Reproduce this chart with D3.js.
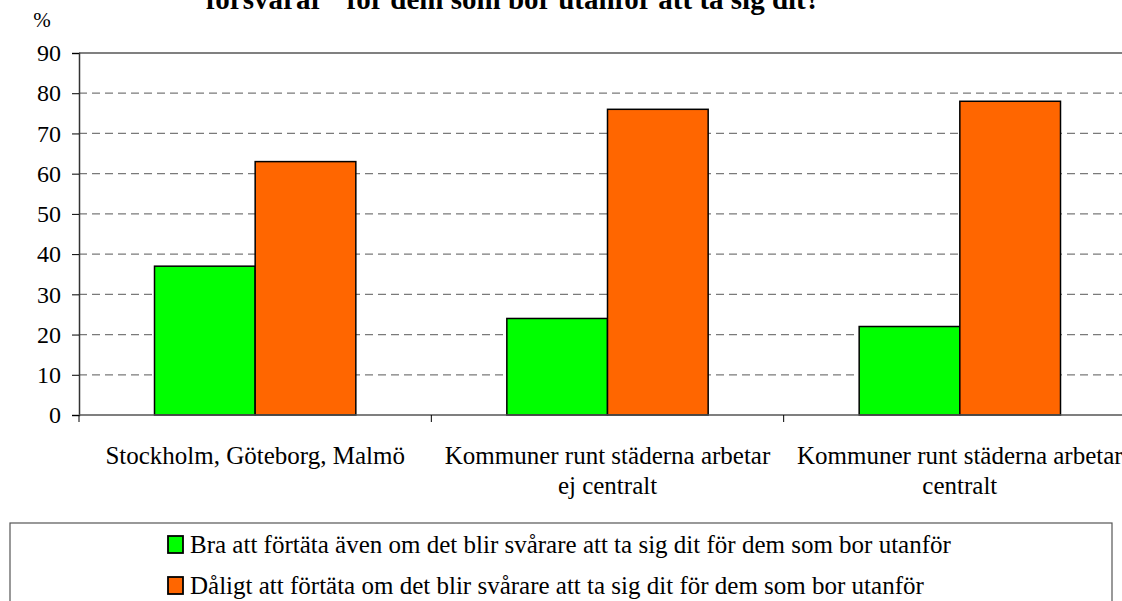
<!DOCTYPE html>
<html><head><meta charset="utf-8">
<script src="https://cdn.jsdelivr.net/npm/d3@7"></script>
<style>body{margin:0;background:#fff;}</style>
</head><body>
<svg id="c" width="1122" height="601" font-family="Liberation Serif"></svg>
<script>
const categories = [["Stockholm, Göteborg, Malmö"], ["Kommuner runt städerna arbetar", "ej centralt"], ["Kommuner runt städerna arbetar", "centralt"]];
const seriesNames = ["Bra att förtäta även om det blir svårare att ta sig dit för dem som bor utanför", "Dåligt att förtäta om det blir svårare att ta sig dit för dem som bor utanför"];
const seriesColors = ["#00ff00", "#ff6600"];
const greenValues = [37, 24, 22];
const orangeValues = [63, 76, 78];
const yTicks = [0, 10, 20, 30, 40, 50, 60, 70, 80, 90];
const titleText = "försvårar\" för dem som bor utanför att ta sig dit?";

const FF = "'Liberation Serif'";
const FS = "25px";
const svg = d3.select("#c");
const L = 79, R = 1136, T = 53, B = 415;
const x = d3.scaleBand().domain(d3.range(categories.length)).range([L, R]).paddingInner(0).paddingOuter(0);
const xs = d3.scaleBand().domain([0, 1]).range([0, x.bandwidth()]).paddingOuter(0.75).paddingInner(0);
const y = d3.scaleLinear().domain([0, 90]).range([B, T]);

// title (partially cut, as in the reference)
svg.append("text").attr("x", 513).attr("y", 9).attr("text-anchor", "middle")
  .style("font-family", FF).style("font-weight", "bold").style("font-size", "29px").text(titleText);
svg.append("text").attr("x", 42).attr("y", 27).attr("text-anchor", "middle").style("font-family", FF).style("font-size", "21px").text("%");

// gridlines
svg.append("g").selectAll("line").data(yTicks.filter(d => d > 0 && d < 90)).join("line")
  .attr("x1", L).attr("x2", R).attr("y1", d => y(d)).attr("y2", d => y(d))
  .attr("stroke", "#7a7a7a").attr("stroke-width", 1.2).attr("stroke-dasharray", "8,5");
svg.append("line").attr("x1", L).attr("x2", R).attr("y1", y(90)).attr("y2", y(90)).attr("stroke", "#808080").attr("stroke-width", 2);

// bars
const series = [greenValues, orangeValues];
series.forEach((vals, si) => {
  svg.append("g").selectAll("rect").data(vals).join("rect")
    .attr("x", (d, i) => x(i) + xs(si))
    .attr("y", d => y(d))
    .attr("width", xs.bandwidth())
    .attr("height", d => y(0) - y(d))
    .attr("fill", seriesColors[si]).attr("stroke", "#000").attr("stroke-width", 1.5);
});

// y axis
const ya = svg.append("g").attr("transform", `translate(${L},0)`)
  .call(d3.axisLeft(y).tickValues(yTicks).tickSize(7).tickPadding(11).tickFormat(d3.format("d")));
ya.attr("font-family", null).attr("font-size", null);
ya.select(".domain").attr("stroke", "#333").attr("stroke-width", 1.5);
ya.selectAll(".tick line").attr("stroke", "#000");
ya.selectAll("text").attr("fill", "#000").style("font-family", FF).style("font-size", "24px");

// x axis
svg.append("line").attr("x1", L).attr("x2", R).attr("y1", B).attr("y2", B).attr("stroke", "#555").attr("stroke-width", 1.5);
svg.append("g").selectAll("line").data(d3.range(categories.length + 1)).join("line")
  .attr("x1", d => L + d * x.bandwidth()).attr("x2", d => L + d * x.bandwidth())
  .attr("y1", B).attr("y2", B + 7).attr("stroke", "#000");
const xl = svg.append("g").selectAll("text").data(categories).join("text")
  .attr("x", (d, i) => x(i) + x.bandwidth() / 2).attr("y", 464)
  .attr("text-anchor", "middle").style("font-family", FF).style("font-size", FS);
xl.selectAll("tspan").data(d => d).join("tspan")
  .attr("x", function() { return this.parentNode.getAttribute("x"); })
  .attr("dy", (d, i) => i === 0 ? 0 : 30).text(d => d);

// legend
svg.append("rect").attr("x", 10).attr("y", 523).attr("width", 1102).attr("height", 100)
  .attr("fill", "none").attr("stroke", "#555").attr("stroke-width", 1.2);
const lg = svg.append("g").selectAll("g").data(seriesNames).join("g")
  .attr("transform", (d, i) => `translate(168,${544 + i * 41})`);
lg.append("rect").attr("x", 0).attr("y", -8).attr("width", 15).attr("height", 17)
  .attr("fill", (d, i) => seriesColors[i]).attr("stroke", "#000").attr("stroke-width", 1.8);
lg.append("text").attr("x", 22).attr("y", 0).attr("dy", "0.35em").style("font-family", FF).style("font-size", FS).text(d => d);
</script>
</body></html>
